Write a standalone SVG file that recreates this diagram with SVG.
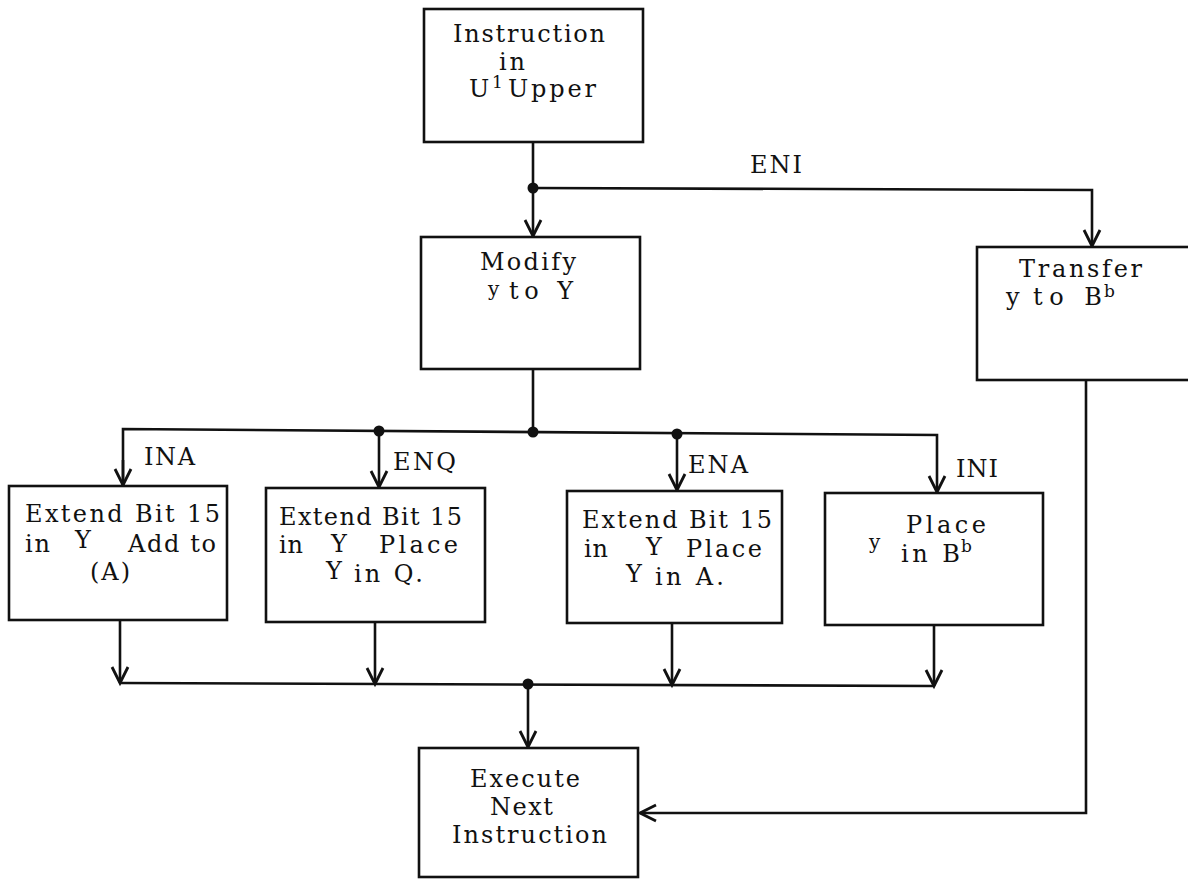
<svg xmlns="http://www.w3.org/2000/svg" width="1188" height="879" viewBox="0 0 1188 879">
<defs>
<style>
.box{fill:#fff;stroke:#111;stroke-width:2.6}
.ln{fill:none;stroke:#111;stroke-width:2.6}
.dot{fill:#111}
text{font-family:"DejaVu Serif","Liberation Serif",serif;font-size:24px;fill:#111}
.sup{font-size:17px}
.sm{font-size:20px}
</style>
<marker id="arr" markerUnits="userSpaceOnUse" markerWidth="22" markerHeight="22" refX="17" refY="9" orient="auto" viewBox="0 0 22 18">
<path d="M1,1 L17,9 L1,17" fill="none" stroke="#111" stroke-width="2.8"/>
</marker>
</defs>
<rect width="1188" height="879" fill="#fff"/>

<g id="connectors">
<line class="ln" x1="533" y1="142" x2="533" y2="236" marker-end="url(#arr)"/>
<polyline class="ln" points="533,188 1092,190 1092,246" marker-end="url(#arr)"/>
<line class="ln" x1="533" y1="369" x2="533" y2="432"/>
<polyline class="ln" points="123,486 123,429 937,435 937,492" marker-end="url(#arr)"/>
<line class="ln" x1="123" y1="460" x2="123" y2="485" marker-end="url(#arr)"/>
<line class="ln" x1="379" y1="431" x2="379" y2="487" marker-end="url(#arr)"/>
<line class="ln" x1="677" y1="434" x2="677" y2="490" marker-end="url(#arr)"/>
<line class="ln" x1="120" y1="620" x2="120" y2="683" marker-end="url(#arr)"/>
<line class="ln" x1="375" y1="622" x2="375" y2="684" marker-end="url(#arr)"/>
<line class="ln" x1="672" y1="623" x2="672" y2="685" marker-end="url(#arr)"/>
<line class="ln" x1="934" y1="625" x2="934" y2="686" marker-end="url(#arr)"/>
<line class="ln" x1="120" y1="683" x2="934" y2="686"/>
<line class="ln" x1="528" y1="684" x2="528" y2="747" marker-end="url(#arr)"/>
<polyline class="ln" points="1086,380 1086,813 640,813" marker-end="url(#arr)"/>
<circle class="dot" cx="533" cy="188" r="5.5"/>
<circle class="dot" cx="379" cy="431" r="5.5"/>
<circle class="dot" cx="533" cy="432" r="5.5"/>
<circle class="dot" cx="677" cy="434" r="5.5"/>
<circle class="dot" cx="528" cy="684" r="5.5"/>
<text x="750" y="173" textLength="52">ENI</text>
<text x="144" y="465" textLength="51">INA</text>
<text x="393" y="470" textLength="63">ENQ</text>
<text x="688" y="473" textLength="60">ENA</text>
<text x="956" y="477" textLength="42">INI</text>
</g>

<g id="instruction-upper">
<rect class="box" x="424" y="9" width="219" height="133"/>
<text x="453" y="42" textLength="152">Instruction</text>
<text x="499" y="70" textLength="26">in</text>
<text x="469" y="97">U</text>
<text class="sup" x="492" y="88">1</text>
<text x="508" y="97" textLength="88">Upper</text>
</g>

<g id="modify">
<rect class="box" x="421" y="237" width="219" height="132"/>
<text x="480" y="270" textLength="96">Modify</text>
<text class="sm" x="488" y="296">y</text>
<text x="509" y="299" textLength="64">to Y</text>
</g>

<g id="transfer">
<rect class="box" x="977" y="247" width="230" height="133"/>
<text x="1019" y="277" textLength="123">Transfer</text>
<text x="1006" y="305">y</text>
<text x="1033" y="305" textLength="69">to B</text>
<text class="sup" x="1104" y="297">b</text>
</g>

<g id="extend-add">
<rect class="box" x="9" y="486" width="218" height="134"/>
<text x="25" y="522" textLength="195">Extend  Bit 15</text>
<text x="25" y="552" textLength="25">in</text>
<text x="75" y="548">Y</text>
<text x="128" y="552" textLength="88">Add to</text>
<text x="90" y="580" textLength="40">(A)</text>
</g>

<g id="extend-q">
<rect class="box" x="266" y="488" width="219" height="134"/>
<text x="279" y="525" textLength="183">Extend Bit 15</text>
<text x="279" y="553" textLength="24">in</text>
<text x="331" y="552">Y</text>
<text x="379" y="553" textLength="79">Place</text>
<text x="326" y="579">Y</text>
<text x="354" y="582" textLength="69">in Q.</text>
</g>

<g id="extend-a">
<rect class="box" x="567" y="491" width="215" height="132"/>
<text x="582" y="528" textLength="190">Extend Bit 15</text>
<text x="584" y="557" textLength="24">in</text>
<text x="646" y="555">Y</text>
<text x="686" y="557" textLength="76">Place</text>
<text x="626" y="582">Y</text>
<text x="655" y="585" textLength="69">in A.</text>
</g>

<g id="place-b">
<rect class="box" x="825" y="493" width="218" height="132"/>
<text x="906" y="533" textLength="80">Place</text>
<text class="sm" x="869" y="549">y</text>
<text x="901" y="562" textLength="59">in B</text>
<text class="sup" x="961" y="552">b</text>
</g>

<g id="execute-next">
<rect class="box" x="419" y="748" width="219" height="129"/>
<text x="470" y="787" textLength="110">Execute</text>
<text x="490" y="815" textLength="63">Next</text>
<text x="452" y="843" textLength="155">Instruction</text>
</g>
</svg>
